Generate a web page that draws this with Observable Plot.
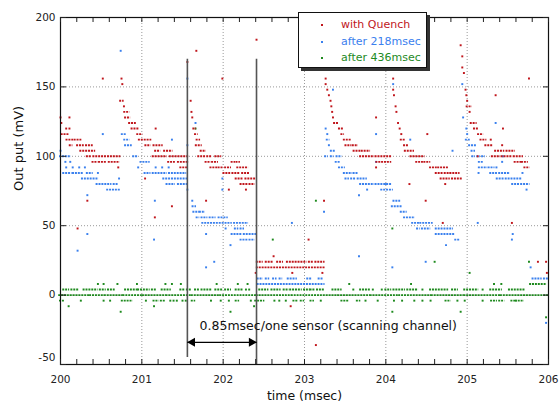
<!DOCTYPE html>
<html>
<head>
<meta charset="utf-8">
<script src="https://cdn.jsdelivr.net/npm/d3@7"></script>
<script src="https://cdn.jsdelivr.net/npm/@observablehq/plot@0.6"></script>
<style>
  html, body { margin: 0; padding: 0; background: #fff; }
  #wrap { position: relative; width: 559px; height: 405px; font-family: "DejaVu Sans", sans-serif; }
  #legend { position: absolute; left: 298px; top: 12px; width: 129px; height: 56px; box-sizing: border-box;
            border: 1.5px solid #111; background: #fff; box-shadow: 3px 3px 0 #333; font-size: 11px; }
  #legend .row { position: absolute; left: 0; height: 14px; line-height: 14px; white-space: nowrap; }
  #legend .dot { position: absolute; left: 22px; top: 6px; width: 2px; height: 2px; }
  #legend .lab { position: absolute; left: 42px; top: 0; }
</style>
</head>
<body>
<div id="wrap"></div>
<script>
// ---------------- data (time in msec, output in mV) ----------------
const seriesNames = ["with Quench", "after 218msec", "after 436msec"];
const seriesColors = ["#c0161c", "#3a80ee", "#1e8a1e"];

// isolated samples [time, mV]
const redDots = [
  [200.00,128],[200.11,128],[200.01,124],[200.07,120],[200.11,120],[200.52,156],[200.33,68],[200.21,48],[200.71,92],
  [200.75,156],[200.76,152],[200.78,136],[201.17,120],[201.04,84],[201.37,64],[201.16,56],
  [201.56,168],[201.67,176],[201.99,156],[201.60,140],[201.61,132],[201.62,128],[202.07,76],[202.28,76],[201.79,68],[202.41,184],
  [202.40,16],[202.62,28],[202.85,16],[203.22,16],[203.05,40],[202.83,-8],[203.14,-36],
  [203.26,156],[203.26,152],[203.28,148],[203.30,144],[203.32,140],[203.33,136],[203.34,132],[203.35,128],[203.88,128],[203.88,92],[203.24,68],
  [204.09,156],[204.09,148],[204.10,144],[204.12,136],[204.13,132],[204.15,124],[204.17,120],[204.19,116],[204.49,68],[204.29,80],[204.51,116],[204.73,80],[204.70,52],
  [204.92,180],[204.94,172],[204.94,164],[204.96,160],[204.98,148],[204.99,144],[205.00,140],[205.03,132],[205.35,144],[205.44,120],[205.29,112],[205.43,108],[205.13,100],[205.55,52],[205.76,156],
  [205.87,24],[205.97,24],[205.98,16]
];
// runs of consecutive samples at one level [start, end, mV]
const redRuns = [
  [200.02,200.10,116],[200.08,200.15,112],[200.18,200.25,112],[200.12,200.14,108],[200.21,200.28,108],[200.32,200.39,108],[200.25,200.42,104],
  [200.33,200.37,100],[200.41,200.56,100],[200.59,200.73,100],[200.40,200.45,96],[200.48,200.56,96],[200.60,200.72,96],
  [200.74,200.77,140],[200.79,200.84,132],[200.80,200.85,128],[200.85,200.92,124],[200.88,200.96,120],[200.95,201.00,116],[200.97,201.11,112],
  [201.05,201.10,108],[201.15,201.25,108],[201.17,201.22,104],[201.28,201.37,104],[201.14,201.30,100],[201.35,201.57,100],[201.33,201.40,96],[201.45,201.57,96],[201.48,201.56,92],
  [201.64,201.66,120],[201.66,201.68,116],[201.68,201.71,112],[201.67,201.73,108],[201.73,201.78,104],[201.70,201.78,100],[201.81,201.85,100],[201.91,201.97,100],
  [201.79,201.84,96],[201.87,201.93,96],[202.11,202.14,96],[202.17,202.20,96],[201.85,201.92,92],[201.95,201.99,92],[202.03,202.09,92],[202.18,202.30,92],
  [202.01,202.08,88],[202.12,202.20,88],[202.24,202.32,88],[202.16,202.24,84],[202.28,202.40,84],[202.22,202.30,80],[202.33,202.38,80],
  [202.42,202.48,24],[202.53,202.61,24],[202.67,202.73,24],[202.79,203.02,24],[203.06,203.10,24],[203.14,203.24,24],[202.42,203.24,20],
  [203.37,203.41,124],[203.43,203.47,120],[203.46,203.48,116],[203.49,203.57,112],[203.51,203.57,108],[203.60,203.65,108],[203.61,203.68,104],[203.71,203.80,104],
  [203.69,203.85,100],[203.88,204.06,100],[203.89,203.93,96],[203.96,204.06,96],
  [204.19,204.23,112],[204.23,204.27,108],[204.24,204.34,104],[204.31,204.47,100],[204.38,204.45,96],[204.48,204.54,96],[204.55,204.62,92],[204.65,204.76,92],
  [204.62,204.70,88],[204.73,204.78,88],[204.80,204.90,88],[204.68,204.78,84],[204.82,204.93,84],
  [205.00,205.05,136],[205.05,205.11,124],[205.09,205.13,120],[205.14,205.19,116],[205.17,205.23,112],[205.23,205.31,108],[205.35,205.45,104],[205.49,205.58,104],
  [205.31,205.40,100],[205.43,205.55,100],[205.58,205.68,100],[205.59,205.66,96],[205.68,205.74,96],[205.71,205.76,92]
];

const blueDots = [
  [200.00,104],[200.06,96],[200.12,96],[200.07,92],[200.15,92],[200.23,92],[200.30,92],[200.46,88],[200.52,116],[200.33,72],[200.33,44],[200.21,32],[200.74,176],[200.72,84],
  [200.955,92],[201.17,92],[201.25,92],[201.33,92],[201.16,68],[201.15,40],[201.37,112],[201.56,108],
  [201.56,156],[201.66,124],[201.56,76],[201.62,68],[202.03,48],[202.09,36],[201.79,44],[201.89,24],[201.79,20],[201.99,76],[201.99,84],
  [202.845,52],[203.67,28],
  [203.35,148],[203.26,120],[203.28,116],[203.30,108],[203.67,72],[203.88,116],[203.88,96],[203.24,60],[203.77,76],
  [204.00,80],[204.82,104],[204.74,36],[204.49,24],[204.08,20],[204.09,152],[204.30,112],
  [204.94,152],[204.95,128],[204.99,120],[205.00,116],
  [205.35,124],[205.44,100],[205.43,96],[205.36,92],[205.14,88],[205.68,88],[205.73,76],[205.13,52],[205.56,44],[205.55,40],
  [205.78,20],[205.97,-20]
];
const blueRuns = [
  [200.00,200.12,100],[200.04,200.13,88],[200.16,200.27,88],[200.33,200.39,88],[200.27,200.46,84],[200.45,200.62,80],[200.66,200.70,80],[200.58,200.73,76],
  [200.76,200.80,116],[200.79,200.84,112],[200.80,200.87,108],[200.90,200.94,100],[200.99,201.09,96],[201.04,201.10,88],[201.14,201.30,88],[201.34,201.54,88],
  [201.27,201.56,84],[201.31,201.40,80],[201.45,201.56,80],
  [201.63,201.66,64],[201.64,201.70,60],[201.72,201.77,60],[201.68,201.70,56],[201.74,201.80,56],[201.84,201.90,56],[201.95,202.05,56],[201.75,202.10,52],[202.14,202.30,52],
  [202.15,202.18,48],[202.22,202.25,48],[202.11,202.22,44],[202.26,202.40,44],[202.22,202.30,40],[202.33,202.38,40],
  [202.43,202.48,12],[202.53,202.56,12],[202.62,202.65,12],[202.70,202.72,12],[202.80,202.90,12],[203.04,203.08,12],[203.18,203.22,12],[202.43,203.24,8],
  [203.28,203.30,112],[203.33,203.37,104],[203.26,203.28,100],[203.33,203.35,100],[203.40,203.45,100],[203.39,203.43,96],[203.43,203.49,92],[203.49,203.58,88],[203.61,203.65,88],
  [203.51,203.54,84],[203.58,203.62,84],[203.66,203.76,84],[203.69,203.85,80],[203.88,204.06,80],[203.95,204.08,76],
  [204.10,204.17,68],[204.08,204.19,64],[204.19,204.25,60],[204.23,204.35,56],[204.33,204.41,52],[204.43,204.57,52],[204.39,204.41,48],[204.45,204.54,48],[204.62,204.82,48],
  [204.62,204.84,44],[204.86,204.90,40],
  [204.99,205.03,112],[205.03,205.11,108],[205.06,205.09,104],[205.07,205.09,100],[205.13,205.15,100],[205.19,205.21,100],[205.15,205.19,96],[205.15,205.24,92],[205.27,205.33,92],
  [205.29,205.36,88],[205.40,205.52,88],[205.37,205.45,84],[205.48,205.66,84],[205.56,205.64,80],[205.67,205.76,80],
  [205.81,205.91,12],[205.95,206.00,12]
];

const greenDots = [
  [200.46,8],[200.53,8],[200.70,8],[200.94,8],[201.29,8],[201.37,8],[201.48,8],[201.92,8],[202.18,8],[202.30,8],[203.55,8],[204.31,8],[205.33,8],[205.42,8],
  [200.10,-8],[201.15,-8],[202.38,-8],[200.74,-12],[202.09,-12],[204.08,-12],[204.92,-12],
  [203.14,68],[202.61,40],[204.08,48],[204.60,24],[205.03,16],[205.76,24],[205.97,-16],[201.66,120],
  [200.25,-4],[200.53,-4],[200.61,-4],[201.05,-4],[201.35,-4],[201.39,-4],[201.43,-4],[201.50,-4],[201.54,-4],[201.85,-4],[201.97,-4],[202.07,-4],[202.34,-4],
  [202.63,-4],[202.69,-4],[202.77,-4],[203.20,-4],[203.75,-4],[203.90,-4],[204.10,-4],[204.20,-4],[204.35,-4],[204.45,-4],[204.55,-4],[204.88,-4],[204.97,-4],[205.19,-4],[205.60,-4],
  [202.28,4],[202.32,4],[203.60,4],[203.84,4],[203.95,4],[204.45,4],[205.19,4]
];
const greenRuns = [
  [199.99,200.35,0],[200.37,200.53,0],[200.55,200.76,0],[200.78,201.00,0],[201.02,201.29,0],[201.31,201.60,0],[201.62,201.95,0],[201.97,202.40,0],
  [202.42,202.83,0],[202.85,203.40,0],[203.42,203.80,0],[203.82,204.15,0],[204.17,204.55,0],[204.57,204.95,0],[204.97,205.40,0],[205.42,206.00,0],
  [200.04,200.10,4],[200.14,200.22,4],[200.29,200.45,4],[200.49,200.55,4],[200.59,200.66,4],[200.80,200.94,4],[200.96,201.09,4],[201.13,201.17,4],[201.25,201.35,4],
  [201.48,201.52,4],[201.56,201.60,4],[201.66,201.70,4],[201.74,201.85,4],[201.91,201.99,4],[202.03,202.09,4],[202.16,202.24,4],[202.45,202.55,4],[202.60,202.70,4],
  [202.75,202.80,4],[202.83,202.96,4],[203.00,203.06,4],[203.08,203.12,4],[203.16,203.24,4],[203.35,203.45,4],[203.69,203.80,4],[204.00,204.06,4],[204.10,204.23,4],
  [204.27,204.39,4],[204.55,204.76,4],[204.82,204.88,4],[204.97,205.13,4],[205.29,205.42,4],[205.52,205.70,4],
  [205.78,205.97,8],
  [200.00,200.04,-4],[200.76,200.88,-4],[201.15,201.20,-4],[201.24,201.28,-4],[201.62,201.65,-4],[202.16,202.19,-4],[202.40,202.50,-4],[202.87,202.91,-4],
  [202.96,202.99,-4],[203.08,203.11,-4],[203.46,203.54,-4],[203.65,203.68,-4],[204.74,204.79,-4],[205.30,205.36,-4],[205.40,205.45,-4],[205.55,205.60,-4],[205.64,205.69,-4]
];

// axes
const xLabelTicks = [200, 201, 202, 203, 204, 205, 206];
const xGridTicks = [201, 202, 203, 204, 205];
const yLabelTicks = [0, 50, 100, 150, 200];
const yBottomLabel = [-50];
const yGridTicks = [0, 50, 100, 150];
const yTickMarks = [-50, 0, 50, 100, 150, 200];

// annotation
const markerTimes = [201.56, 202.41];
const markerLow = [-45, -50];
const markerHigh = [170, 170];
const arrowLevel = [-34];
const noteText = ["0.85msec/one sensor (scanning channel)"];
const noteTime = 201.71, noteLevel = -22;
const xTitle = "time (msec)", yTitle = "Out put (mV)";

// ---------------- chart ----------------
const xMinor = d3.range(0, 31).map(i => 200 + i * 0.2);
const T = d => d[0], V = d => d[1];
const grid = {stroke: "#999", strokeOpacity: 1, strokeDasharray: "1,2", strokeWidth: 1};

function seriesMarks(dots, runs, color) {
  return [
    Plot.ruleY(runs, {x1: d => d[0], x2: d => d[1], y: d => d[2], stroke: color, strokeWidth: 1.9,
                      strokeLinecap: "butt", strokeDasharray: "2,0.9", insetLeft: -1, insetRight: -1}),
    Plot.dot(dots, {x: T, y: V, r: 1.1, symbol: "square", fill: color, stroke: null})
  ];
}

const chart = Plot.plot({
  width: 559, height: 405,
  marginLeft: 60, marginRight: 11, marginTop: 17, marginBottom: 41,
  x: {domain: [200, 206]},
  y: {domain: [-50, 200]},
  style: {fontFamily: "DejaVu Sans", fontSize: "10.5px", color: "#222", background: "#fff"},
  marks: [
    Plot.gridX(xGridTicks, grid),
    Plot.gridY(yGridTicks, grid),
    ...seriesMarks(greenDots, greenRuns, seriesColors[2]),
    ...seriesMarks(blueDots, blueRuns, seriesColors[1]),
    ...seriesMarks(redDots, redRuns, seriesColors[0]),
    Plot.ruleX(markerTimes, {x: d => d, y1: (d, i) => markerLow[i], y2: (d, i) => markerHigh[i], stroke: "#555", strokeWidth: 1.6}),
    Plot.link(arrowLevel, {x1: () => markerTimes[0], x2: () => markerTimes[1], y1: d => d, y2: d => d, stroke: "#000", strokeWidth: 1.2}),
    Plot.dot(arrowLevel, {x: () => markerTimes[0], y: d => d, symbol: "triangle", r: 3.4, fill: "#000", stroke: null, rotate: -90, dx: 5}),
    Plot.dot(arrowLevel, {x: () => markerTimes[1], y: d => d, symbol: "triangle", r: 3.4, fill: "#000", stroke: null, rotate: 90, dx: -5}),
    Plot.text(noteText, {x: () => noteTime, y: () => noteLevel, text: d => d, textAnchor: "start", fontSize: 12.5, fill: "#111"}),
    Plot.frame({stroke: "#111", strokeWidth: 1.2}),
    Plot.axisX(xMinor, {anchor: "bottom", tickSize: -5, tickFormat: () => "", label: null}),
    Plot.axisX(xMinor, {anchor: "top", tickSize: -4, tickFormat: () => "", label: null}),
    Plot.axisX(xLabelTicks, {anchor: "bottom", tickSize: 0, tickPadding: 11, label: null}),
    Plot.axisY(yTickMarks, {anchor: "left", tickSize: -6, tickFormat: () => "", label: null}),
    Plot.axisY(yTickMarks, {anchor: "right", tickSize: -6, tickFormat: () => "", label: null}),
    Plot.axisY(yLabelTicks, {anchor: "left", tickSize: 0, tickPadding: 5, label: null}),
    Plot.text(yBottomLabel, {x: () => 200, y: d => d, text: d => String(d), textAnchor: "end", dx: -5, dy: -7, fontSize: 10.5, fill: "#222"}),
    Plot.text([xTitle], {frameAnchor: "bottom", dy: 35, fontSize: 12.5, fill: "#111"}),
    Plot.text([yTitle], {frameAnchor: "left", dx: -42, rotate: -90, fontSize: 13, fill: "#111"})
  ]
});

const wrap = document.getElementById("wrap");
wrap.appendChild(chart);

// legend (HTML overlay)
const legend = document.createElement("div");
legend.id = "legend";
const rowTops = [5, 22, 38];
seriesNames.forEach((name, i) => {
  const row = document.createElement("div");
  row.className = "row";
  row.style.top = rowTops[i] + "px";
  row.style.width = "125px";
  const dot = document.createElement("span");
  dot.className = "dot";
  dot.style.background = seriesColors[i];
  const lab = document.createElement("span");
  lab.className = "lab";
  lab.style.color = seriesColors[i];
  lab.textContent = name;
  row.appendChild(dot);
  row.appendChild(lab);
  legend.appendChild(row);
});
wrap.appendChild(legend);
</script>
</body>
</html>
